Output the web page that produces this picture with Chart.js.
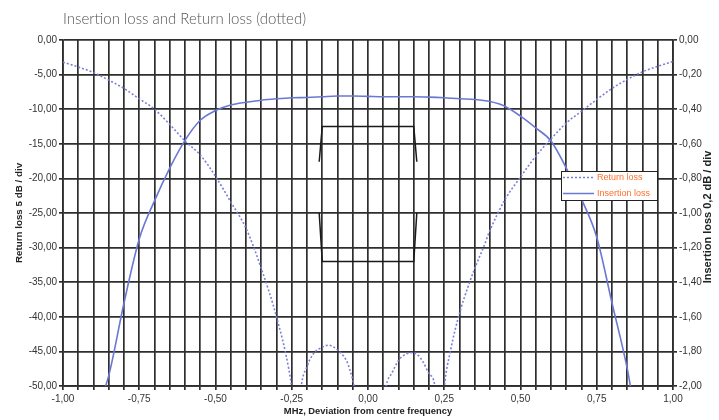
<!DOCTYPE html>
<html>
<head>
<meta charset="utf-8">
<script src="https://cdn.jsdelivr.net/npm/chart.js@4.4.1/dist/chart.umd.min.js"></script>
<style>
  html, body { margin: 0; padding: 0; background: #fff; }
  #wrap { width: 719px; height: 420px; position: relative; }
</style>
</head>
<body>
<div id="wrap"><canvas id="c"></canvas></div>
<script>
// ---- Data ----
const chartTitle = 'Insertion loss and Return loss (dotted)';
const xTitle = 'MHz, Deviation from centre frequency';
const leftTitle = 'Return loss 5 dB / div';
const rightTitle = 'Insertion loss 0,2 dB / div';
const seriesNames = ['Return loss', 'Insertion loss'];

// Return loss (dB, left axis)
const returnFreq = [-1.0,-0.95,-0.9,-0.85,-0.8,-0.75,-0.7,-0.65,-0.6,-0.55,
  -0.5,-0.45,-0.4,-0.35,-0.3,-0.26,-0.25,-0.235,-0.22,-0.2,
  -0.18,-0.15,-0.13,-0.1,-0.07,-0.06,-0.045,0.005,0.058,0.08,
  0.1,0.12,0.14,0.16,0.18,0.2,0.22,0.235,0.25,0.27,
  0.3,0.33,0.35,0.38,0.4,0.45,0.5,0.55,0.6,0.65,
  0.7,0.75,0.8,0.85,0.9,0.95,1.0];
const returnLoss = [-3.2,-3.9,-4.7,-5.8,-7.0,-8.5,-10.0,-12.2,-14.6,-16.6,
  -19.7,-23.4,-27.2,-33.0,-40.0,-47.5,-50.5,-60,-50.5,-47.2,
  -45.4,-44.4,-44.1,-44.8,-46.4,-47.6,-50.3,-70,-50.3,-48.0,
  -46.3,-45.5,-45.2,-45.4,-46.5,-48.2,-50.2,-60,-50.3,-45.0,
  -39.5,-35.4,-33.0,-29.8,-27.5,-23.0,-19.8,-16.8,-14.3,-12.0,
  -10.3,-8.6,-7.0,-5.7,-4.6,-3.8,-3.1];

// Insertion loss (dB, right axis)
const insertionFreq = [-0.87,-0.85,-0.8,-0.75,-0.7,-0.65,-0.6,-0.55,-0.5,-0.45,
  -0.4,-0.35,-0.3,-0.25,-0.2,-0.15,-0.1,-0.05,0,0.05,
  0.1,0.15,0.2,0.25,0.3,0.35,0.4,0.45,0.5,0.55,
  0.6,0.65,0.7,0.75,0.8,0.85,0.87];
const insertionLoss = [-2.05,-1.94,-1.52,-1.15,-0.93,-0.74,-0.58,-0.464,-0.408,-0.376,
  -0.36,-0.348,-0.34,-0.334,-0.332,-0.328,-0.324,-0.324,-0.326,-0.328,
  -0.328,-0.328,-0.33,-0.334,-0.34,-0.344,-0.356,-0.384,-0.44,-0.508,
  -0.584,-0.74,-0.92,-1.14,-1.52,-1.9,-2.1];

// Black mask outline (left axis units), null = break
const maskFreq = [-0.16,-0.15,0.15,0.16,0.16,0.16,0.15,-0.15,-0.16];
const maskLevel = [-17.6,-12.5,-12.5,-17.6,null,-25,-32,-32,-25];

// Axis ranges / steps
const xRange = [-1, 1], xStep = 0.05, xLabelStep = 0.25;
const leftRange = [-50, 0], leftStep = 5;
const rightRange = [-2, 0], rightStep = 0.2;

// ---- helpers ----
const zip = (xs, ys) => xs.map((x, i) => ({ x: x, y: ys[i] }));
const fmt = v => { const r = Math.round(v * 100) / 100; return (r === 0 ? 0 : r).toFixed(2).replace('.', ','); };

const GRID = '#2e2e2e';
const TICKC = '#333';
const TICKFONT = { family: '"Liberation Sans", Arial, sans-serif', size: 10 };

const innerLegend = {
  id: 'innerLegend',
  afterDraw(chart) {
    const { ctx, chartArea } = chart;
    const x = chartArea.right - 112, y = chartArea.top + 131, w = 96, h = 29;
    ctx.save();
    ctx.fillStyle = '#fff';
    ctx.fillRect(x, y, w, h);
    ctx.strokeStyle = '#222';
    ctx.lineWidth = 1;
    ctx.strokeRect(x + 0.5, y + 0.5, w, h);
    [0, 1].forEach((idx, i) => {
      const ds = chart.data.datasets[idx];
      const ly = y + 6.5 + i * 16;
      ctx.beginPath();
      ctx.setLineDash(ds.borderDash || []);
      ctx.strokeStyle = ds.borderColor;
      ctx.lineWidth = 1.5;
      ctx.moveTo(x + 2, ly);
      ctx.lineTo(x + 33, ly);
      ctx.stroke();
      ctx.setLineDash([]);
      ctx.fillStyle = '#ff6f2e';
      ctx.font = '9px "Liberation Sans", Arial, sans-serif';
      ctx.textBaseline = 'middle';
      ctx.textAlign = 'left';
      ctx.fillText(ds.label, x + 36, ly);
    });
    ctx.restore();
  }
};

const rightAxisTitle = {
  id: 'rightAxisTitle',
  afterDraw(chart) {
    const { ctx, chartArea } = chart;
    ctx.save();
    ctx.translate(708, (chartArea.top + chartArea.bottom) / 2 + 4);
    ctx.rotate(-Math.PI / 2);
    ctx.fillStyle = '#222';
    ctx.font = 'bold 11px "Liberation Sans", Arial, sans-serif';
    ctx.textAlign = 'center';
    ctx.textBaseline = 'middle';
    ctx.fillText(rightTitle, 0, 0);
    ctx.restore();
  }
};

new Chart(document.getElementById('c'), {
  type: 'scatter',
  data: {
    datasets: [
      {
        label: seriesNames[0],
        data: zip(returnFreq, returnLoss),
        yAxisID: 'y',
        showLine: true,
        borderColor: '#7a7fd6',
        borderWidth: 1.6,
        borderDash: [2, 2],
        pointRadius: 0,
        cubicInterpolationMode: 'monotone',
        fill: false
      },
      {
        label: seriesNames[1],
        data: zip(insertionFreq, insertionLoss),
        yAxisID: 'y2',
        showLine: true,
        borderColor: '#6a78d2',
        borderWidth: 1.6,
        pointRadius: 0,
        cubicInterpolationMode: 'monotone',
        fill: false
      },
      {
        label: 'mask',
        data: zip(maskFreq, maskLevel),
        yAxisID: 'y',
        showLine: true,
        spanGaps: false,
        borderColor: '#1a1a1a',
        borderWidth: 1.5,
        pointRadius: 0,
        tension: 0,
        fill: false
      }
    ]
  },
  options: {
    responsive: true,
    maintainAspectRatio: false,
    animation: false,
    layout: { padding: 0 },
    plugins: {
      legend: { display: false },
      tooltip: { enabled: false },
      title: {
        display: true,
        text: chartTitle,
        align: 'start',
        fullSize: false,
        color: '#555',
        font: { family: 'Lato, "Open Sans", sans-serif', size: 15, weight: '300' },
        padding: { top: 10, bottom: 12 }
      }
    },
    scales: {
      x: {
        type: 'linear',
        position: 'bottom',
        min: xRange[0], max: xRange[1],
        afterFit(s) { s.height = 34; },
        ticks: {
          stepSize: xStep,
          autoSkip: false,
          maxRotation: 0,
          padding: 3,
          color: TICKC,
          font: TICKFONT,
          callback: v => {
            const k = Math.round(v * 100);
            return (k % Math.round(xLabelStep * 100) === 0) ? fmt(v) : '';
          }
        },
        grid: { color: GRID, lineWidth: 1.7, tickLength: 4, tickColor: GRID },
        border: { color: GRID, width: 1.7 },
        title: {
          display: true,
          text: xTitle,
          color: '#222',
          font: { family: '"Liberation Sans", Arial, sans-serif', size: 9.4, weight: 'bold' },
          padding: { top: 0, bottom: 3 }
        }
      },
      y: {
        type: 'linear',
        position: 'left',
        min: leftRange[0], max: leftRange[1],
        afterFit(s) { s.width = 63; },
        ticks: { stepSize: leftStep, color: TICKC, font: TICKFONT, padding: 2, callback: v => fmt(v) },
        grid: { color: GRID, lineWidth: 1.7, tickLength: 4, tickColor: GRID },
        border: { color: GRID, width: 1.7 },
        title: {
          display: true,
          text: leftTitle,
          color: '#222',
          font: { family: '"Liberation Sans", Arial, sans-serif', size: 9.8, weight: 'bold' },
          padding: { top: 13, bottom: 0 }
        }
      },
      y2: {
        type: 'linear',
        position: 'right',
        min: rightRange[0], max: rightRange[1],
        afterFit(s) { s.width = 46; },
        ticks: { stepSize: rightStep, color: TICKC, font: TICKFONT, padding: 2, callback: v => fmt(v) },
        grid: { drawOnChartArea: false, tickLength: 4, tickColor: GRID, lineWidth: 1.7 },
        border: { color: GRID, width: 1.7 }
      }
    }
  },
  plugins: [innerLegend, rightAxisTitle]
});
</script>
</body>
</html>
